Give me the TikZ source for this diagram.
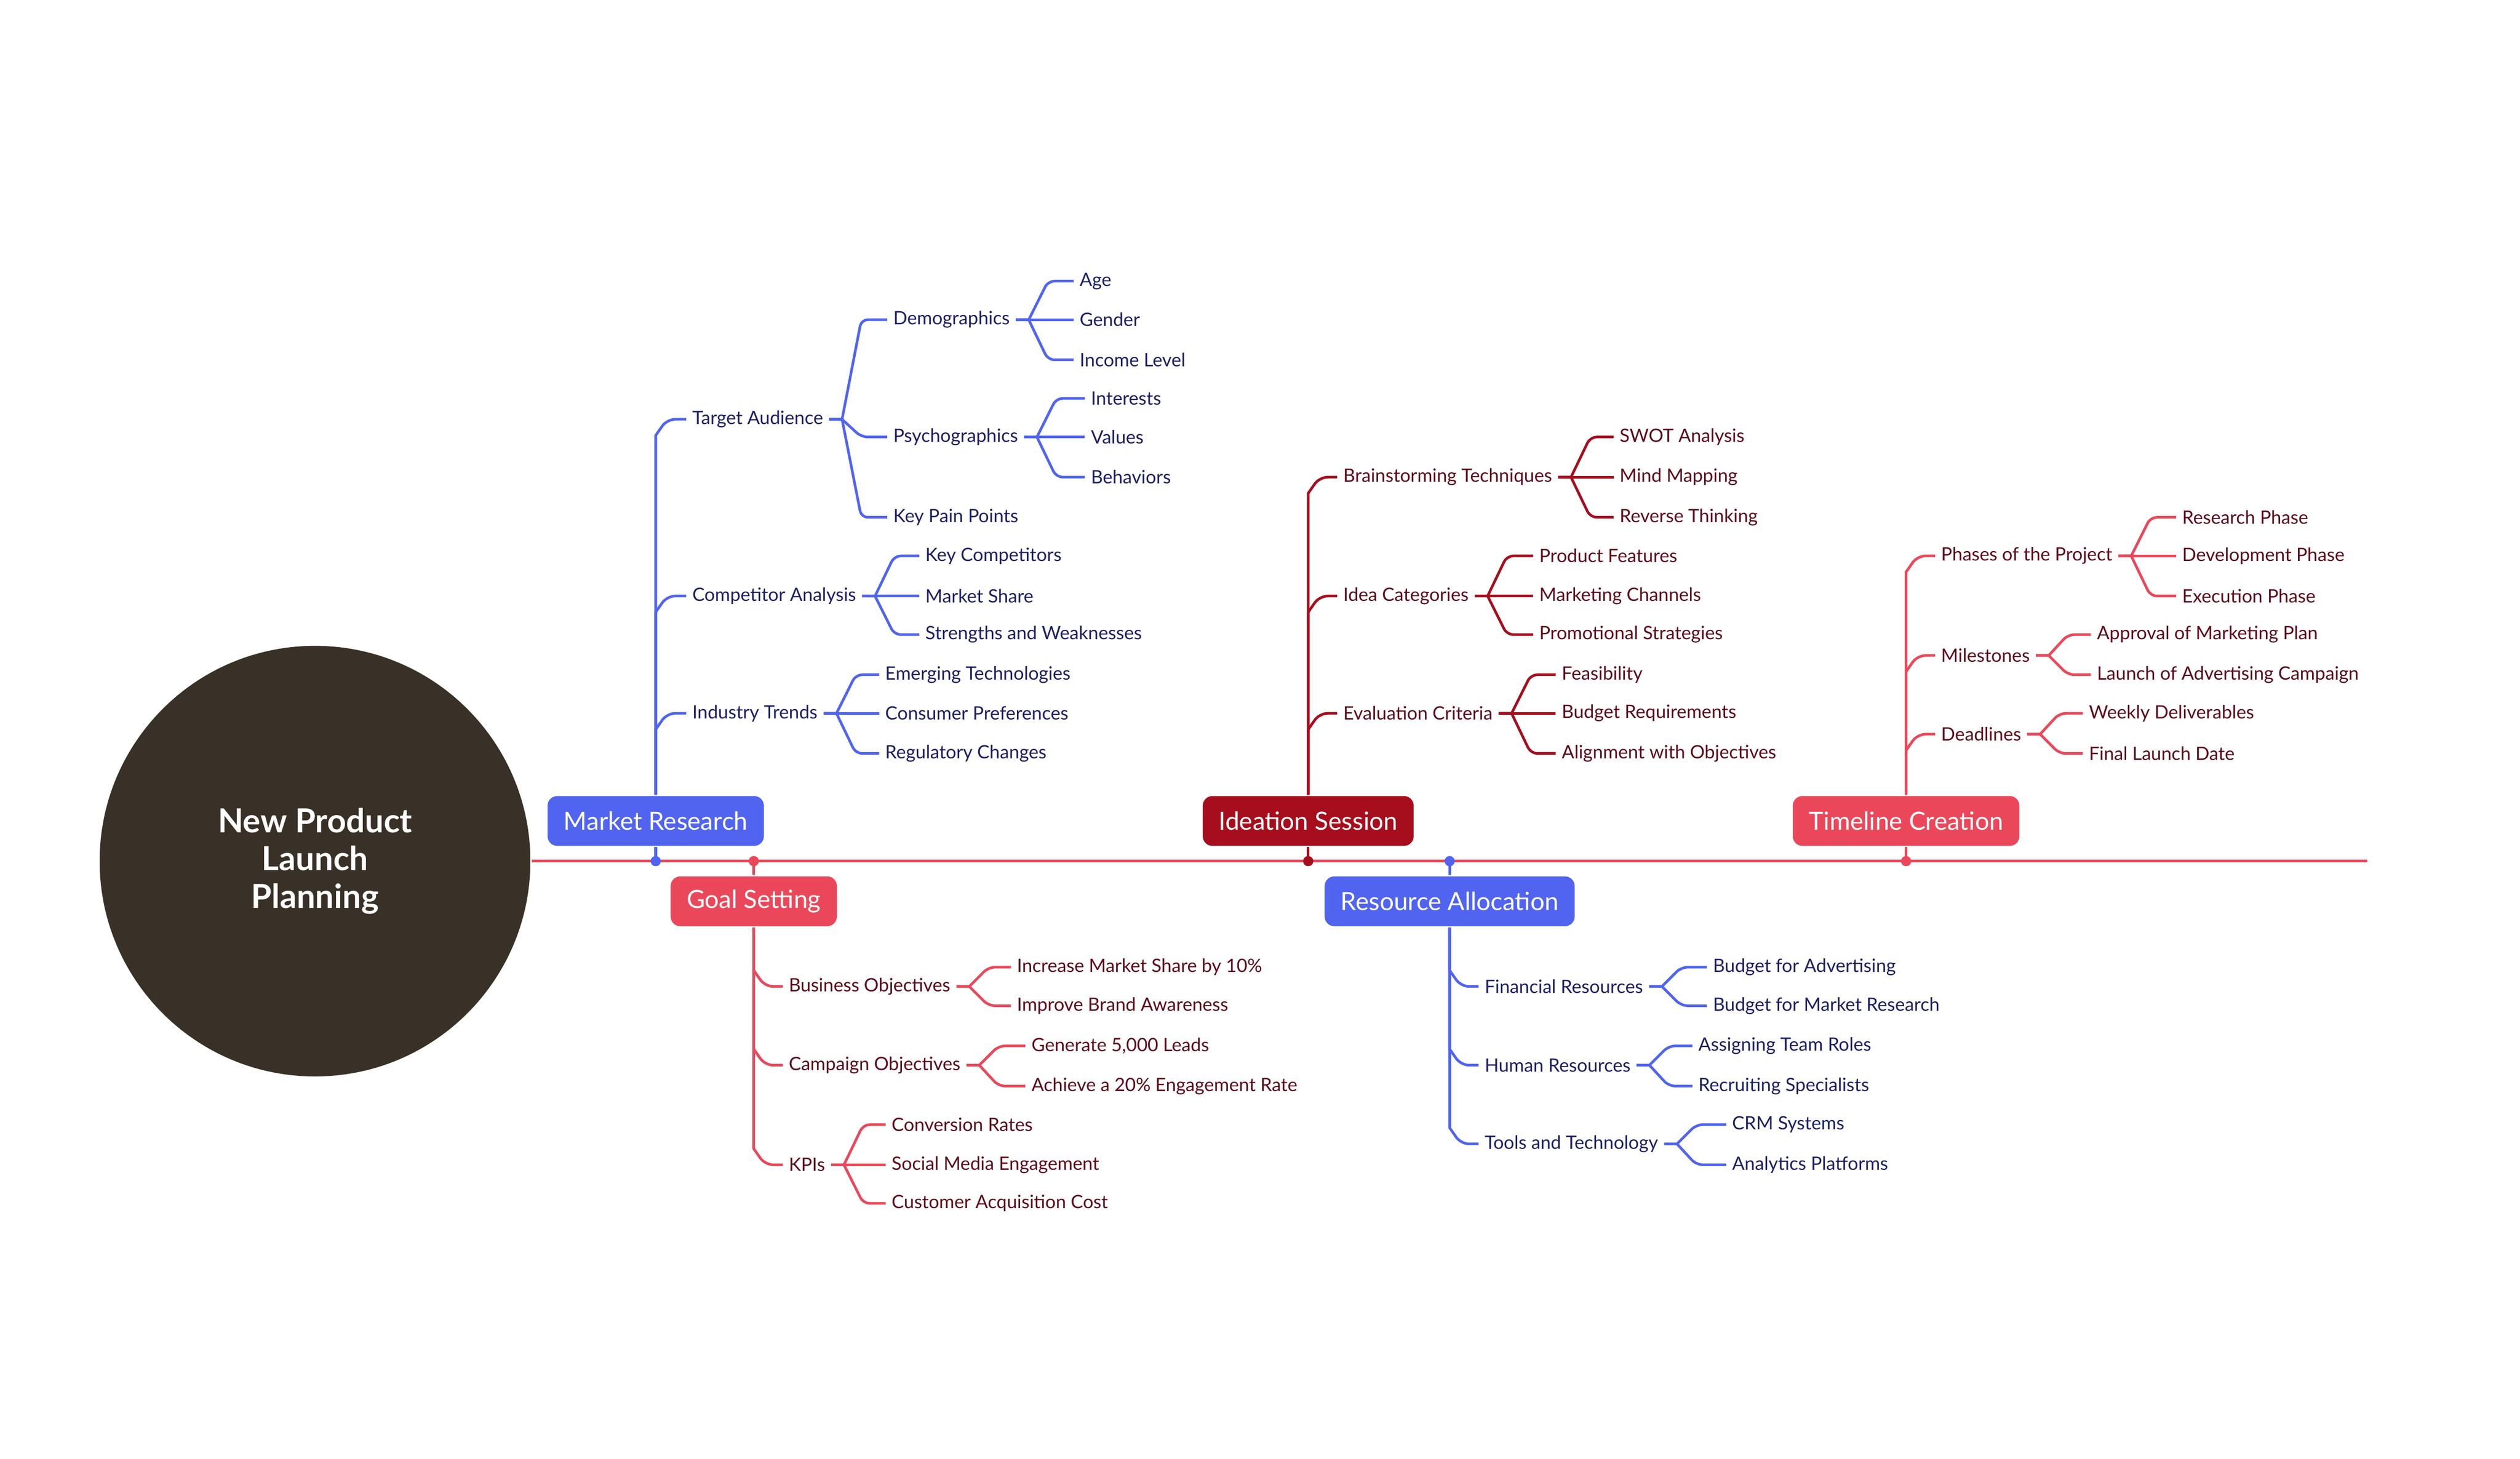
\documentclass[tikz,border=0pt]{standalone}
\usepackage{fontspec}
\setmainfont{Lato}
\usetikzlibrary{calc,positioning}

\definecolor{hubbrown}{RGB}{57,49,39}
\definecolor{mrblue}{RGB}{80,100,240}
\definecolor{navy}{RGB}{28,32,98}
\definecolor{rosered}{RGB}{234,72,90}
\definecolor{wine}{RGB}{166,14,30}
\definecolor{maroon}{RGB}{92,12,26}

\begin{document}
\begin{tikzpicture}[x=0.3mm, y=-0.3mm, line width=1.4pt,
  hub/.style={circle, fill=hubbrown, minimum size=80.4mm, inner sep=0, text=white, align=center, font=\fontsize{17.6}{20}\selectfont\bfseries},
  topic/.style={rounded corners=1.8mm, text=white, inner xsep=3mm, inner ysep=0, minimum height=9.3mm, font=\fontsize{13.3}{16}\selectfont},
  knot/.style={circle, inner sep=0, minimum size=1.9mm},
  item/.style={anchor=west, inner xsep=0.9mm, inner ysep=0.4mm, font=\fontsize{9.8}{12}\selectfont},
  bitem/.style={item, text=navy},
  ritem/.style={item, text=maroon},
  twig/.style={to path={let \p1=(\tikztostart), \p2=(\tikztotarget) in (\p1) -- ++(2.4mm,0) [rounded corners=1.2mm] -- (\x1+6mm,\y2) -- (\p2)}},
  limbup/.style={to path={let \p1=(\tikztostart), \p2=(\tikztotarget) in (\p1) -- (\x1,\y2-3mm) [rounded corners=1.5mm] -- (\x1+2.1mm,\y2) -- (\p2)}},
  limbdown/.style={to path={let \p1=(\tikztostart), \p2=(\tikztotarget) in (\p1) -- (\x1,\y2+3mm) [rounded corners=1.5mm] -- (\x1+2.1mm,\y2) -- (\p2)}}]

  \useasboundingbox (0,0) rectangle (1568,908);

  % centre and spine
  \node[hub] (hub) at (196,536) {New Product\\Launch\\Planning};
  \coordinate (end) at (1473,536);
  \draw[rosered] (hub.east) -- (end);

  % main topics
  \node[topic, fill=mrblue] (mr) at (408,511) {Market Research};
  \node[topic, fill=rosered] (gs) at (469,561) {Goal Setting};
  \node[topic, fill=wine] (is) at (814,511) {Ideation Session};
  \node[topic, fill=mrblue] (ra) at (902,561) {Resource Allocation};
  \node[topic, fill=rosered] (tc) at (1186,511) {Timeline Creation};

  \node[knot, fill=mrblue] (k1) at (408,536) {};
  \node[knot, fill=rosered] (k2) at (469,536) {};
  \node[knot, fill=wine] (k3) at (814,536) {};
  \node[knot, fill=mrblue] (k4) at (902,536) {};
  \node[knot, fill=rosered] (k5) at (1186,536) {};

  \draw[mrblue] (k1.center) -- (mr.south);
  \draw[rosered] (k2.center) -- (gs.north);
  \draw[wine] (k3.center) -- (is.south);
  \draw[mrblue] (k4.center) -- (ra.north);
  \draw[rosered] (k5.center) -- (tc.south);

  % Market Research
  \node[bitem] (ta) at (427,261) {Target Audience};
  \node[bitem] (ca) at (427,371) {Competitor Analysis};
  \node[bitem] (it) at (427,444) {Industry Trends};
  \node[bitem] (dem) at (552,199) {Demographics};
  \node[bitem] (psy) at (552,272) {Psychographics};
  \node[bitem] (kpp) at (552,322) {Key Pain Points};
  \node[bitem] (age) at (668,175) {Age};
  \node[bitem] (gen) at (668,199) {Gender};
  \node[bitem] (inc) at (668,224) {Income Level};
  \node[bitem] (int) at (675,248) {Interests};
  \node[bitem] (val) at (675,272) {Values};
  \node[bitem] (beh) at (675,297) {Behaviors};
  \node[bitem] (kc) at (572,346) {Key Competitors};
  \node[bitem] (ms) at (572,371) {Market Share};
  \node[bitem] (sw) at (572,395) {Strengths and Weaknesses};
  \node[bitem] (et) at (547,420) {Emerging Technologies};
  \node[bitem] (cp) at (547,444) {Consumer Preferences};
  \node[bitem] (rc) at (547,469) {Regulatory Changes};

  \path[mrblue]
  (mr.north) edge[limbup] (ta.west)
             edge[limbup] (ca.west)
             edge[limbup] (it.west)
  (ta.east) edge[twig] (dem.west)
            edge[twig] (psy.west)
            edge[twig] (kpp.west)
  (dem.east) edge[twig] (age.west)
             edge[twig] (gen.west)
             edge[twig] (inc.west)
  (psy.east) edge[twig] (int.west)
             edge[twig] (val.west)
             edge[twig] (beh.west)
  (ca.east) edge[twig] (kc.west)
            edge[twig] (ms.west)
            edge[twig] (sw.west)
  (it.east) edge[twig] (et.west)
            edge[twig] (cp.west)
            edge[twig] (rc.west);

  % Goal Setting
  \node[ritem] (bo) at (487,614) {Business Objectives};
  \node[ritem] (co) at (487,663) {Campaign Objectives};
  \node[ritem] (kpi) at (487,725) {KPIs};
  \node[ritem] (ims) at (629,602) {Increase Market Share by 10\%};
  \node[ritem] (iba) at (629,626) {Improve Brand Awareness};
  \node[ritem] (gl) at (638,651) {Generate 5,000 Leads};
  \node[ritem] (aer) at (638,676) {Achieve a 20\% Engagement Rate};
  \node[ritem] (cr) at (551,700) {Conversion Rates};
  \node[ritem] (sme) at (551,725) {Social Media Engagement};
  \node[ritem] (cac) at (551,749) {Customer Acquisition Cost};

  \path[rosered]
  (gs.south) edge[limbdown] (bo.west)
             edge[limbdown] (co.west)
             edge[limbdown] (kpi.west)
  (bo.east) edge[twig] (ims.west)
            edge[twig] (iba.west)
  (co.east) edge[twig] (gl.west)
            edge[twig] (aer.west)
  (kpi.east) edge[twig] (cr.west)
             edge[twig] (sme.west)
             edge[twig] (cac.west);

  % Ideation Session
  \node[ritem] (bt) at (832,297) {Brainstorming Techniques};
  \node[ritem] (ic) at (832,371) {Idea Categories};
  \node[ritem] (ec) at (832,444) {Evaluation Criteria};
  \node[ritem] (swot) at (1004,272) {SWOT Analysis};
  \node[ritem] (mm) at (1004,297) {Mind Mapping};
  \node[ritem] (rt) at (1004,322) {Reverse Thinking};
  \node[ritem] (pf) at (954,346) {Product Features};
  \node[ritem] (mc) at (954,371) {Marketing Channels};
  \node[ritem] (ps) at (954,395) {Promotional Strategies};
  \node[ritem] (fe) at (968,420) {Feasibility};
  \node[ritem] (br) at (968,444) {Budget Requirements};
  \node[ritem] (awo) at (968,469) {Alignment with Objectives};

  \path[wine]
  (is.north) edge[limbup] (bt.west)
             edge[limbup] (ic.west)
             edge[limbup] (ec.west)
  (bt.east) edge[twig] (swot.west)
            edge[twig] (mm.west)
            edge[twig] (rt.west)
  (ic.east) edge[twig] (pf.west)
            edge[twig] (mc.west)
            edge[twig] (ps.west)
  (ec.east) edge[twig] (fe.west)
            edge[twig] (br.west)
            edge[twig] (awo.west);

  % Resource Allocation
  \node[bitem] (fr) at (920,614) {Financial Resources};
  \node[bitem] (hr) at (920,663) {Human Resources};
  \node[bitem] (tt) at (920,712) {Tools and Technology};
  \node[bitem] (bfa) at (1062,602) {Budget for Advertising};
  \node[bitem] (bmr) at (1062,626) {Budget for Market Research};
  \node[bitem] (atr) at (1053,651) {Assigning Team Roles};
  \node[bitem] (rs) at (1053,676) {Recruiting Specialists};
  \node[bitem] (crm) at (1074,700) {CRM Systems};
  \node[bitem] (ap) at (1074,725) {Analytics Platforms};

  \path[mrblue]
  (ra.south) edge[limbdown] (fr.west)
             edge[limbdown] (hr.west)
             edge[limbdown] (tt.west)
  (fr.east) edge[twig] (bfa.west)
            edge[twig] (bmr.west)
  (hr.east) edge[twig] (atr.west)
            edge[twig] (rs.west)
  (tt.east) edge[twig] (crm.west)
            edge[twig] (ap.west);

  % Timeline Creation
  \node[ritem] (pp) at (1204,346) {Phases of the Project};
  \node[ritem] (mi) at (1204,408) {Milestones};
  \node[ritem] (dl) at (1204,457) {Deadlines};
  \node[ritem] (rp) at (1354,322) {Research Phase};
  \node[ritem] (dp) at (1354,346) {Development Phase};
  \node[ritem] (ep) at (1354,371) {Execution Phase};
  \node[ritem] (amp) at (1301,395) {Approval of Marketing Plan};
  \node[ritem] (lac) at (1301,420) {Launch of Advertising Campaign};
  \node[ritem] (wd) at (1296,444) {Weekly Deliverables};
  \node[ritem] (fld) at (1296,469) {Final Launch Date};

  \path[rosered]
  (tc.north) edge[limbup] (pp.west)
             edge[limbup] (mi.west)
             edge[limbup] (dl.west)
  (pp.east) edge[twig] (rp.west)
            edge[twig] (dp.west)
            edge[twig] (ep.west)
  (mi.east) edge[twig] (amp.west)
            edge[twig] (lac.west)
  (dl.east) edge[twig] (wd.west)
            edge[twig] (fld.west);

\end{tikzpicture}
\end{document}
